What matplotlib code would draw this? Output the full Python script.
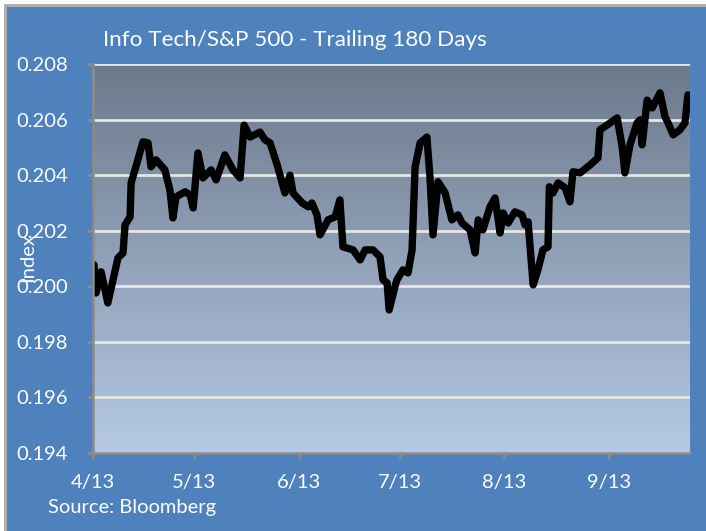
import numpy as np
import matplotlib.pyplot as plt
import matplotlib.dates as mdates
from matplotlib.patches import Rectangle
from datetime import datetime

# Info Tech / S&P 500 relative ratio, days counted from 1 Apr 2013
day_offset = [
    0.3, 0.9, 2.4, 4.4, 7.4, 8.9, 9.5, 11.0, 11.3, 13.3, 14.8, 16.3, 17.2,
    18.7, 21.3, 22.8, 23.7, 24.6, 27.3, 28.8, 29.7, 31.1, 32.6, 35.0, 36.5,
    39.1, 41.5, 43.6, 44.8, 46.6, 49.5, 51.0, 52.5, 54.6, 56.9, 58.4, 59.3,
    62.0, 63.8, 64.9, 66.4, 67.3, 69.7, 71.8, 73.2, 74.1, 77.1, 79.2, 80.7,
    83.0, 85.1, 86.0, 87.2, 87.8, 89.5, 90.1, 91.9, 93.4, 94.6, 95.5, 97.0,
    99.0, 99.9, 100.8, 102.3, 104.4, 106.4, 108.2, 109.4, 111.8, 113.3,
    114.2, 115.6, 117.7, 119.2, 120.7, 121.6, 123.1, 125.1, 127.2, 128.1,
    129.0, 130.5, 131.9, 133.4, 134.9, 135.3, 136.4, 137.9, 140.0, 141.4,
    142.3, 144.4, 147.4, 149.7, 150.3, 152.4, 155.4, 156.9, 157.7, 159.2,
    161.3, 162.2, 162.8, 164.3, 165.8, 168.1, 169.6, 170.5, 172.0, 174.0,
    175.5, 176.4,
]
ratio = [
    0.20077, 0.19976, 0.20052, 0.19940, 0.20102, 0.20120, 0.20221, 0.20250,
    0.20372, 0.20455, 0.20520, 0.20516, 0.20430, 0.20455, 0.20419, 0.20347,
    0.20246, 0.20322, 0.20340, 0.20329, 0.20282, 0.20480, 0.20390, 0.20419,
    0.20383, 0.20473, 0.20419, 0.20390, 0.20580, 0.20537, 0.20555, 0.20527,
    0.20516, 0.20437, 0.20336, 0.20400, 0.20336, 0.20300, 0.20286, 0.20300,
    0.20257, 0.20185, 0.20239, 0.20250, 0.20311, 0.20142, 0.20131, 0.20095,
    0.20131, 0.20131, 0.20106, 0.20023, 0.20012, 0.19915, 0.19998, 0.20023,
    0.20059, 0.20048, 0.20131, 0.20430, 0.20516, 0.20537, 0.20394, 0.20185,
    0.20376, 0.20336, 0.20239, 0.20257, 0.20228, 0.20203, 0.20120, 0.20239,
    0.20203, 0.20286, 0.20318, 0.20192, 0.20264, 0.20228, 0.20268, 0.20257,
    0.20221, 0.20232, 0.20005, 0.20059, 0.20131, 0.20142, 0.20358, 0.20336,
    0.20372, 0.20354, 0.20304, 0.20412, 0.20408, 0.20437, 0.20462, 0.20563,
    0.20580, 0.20606, 0.20501, 0.20408, 0.20509, 0.20588, 0.20599, 0.20509,
    0.20670, 0.20642, 0.20696, 0.20610, 0.20588, 0.20545, 0.20563, 0.20588,
    0.20689,
]

month_starts = [datetime(2013, m, 1) for m in range(4, 10)]
month_labels = ['4/13', '5/13', '6/13', '7/13', '8/13', '9/13']
y_ticks = [0.194, 0.196, 0.198, 0.200, 0.202, 0.204, 0.206, 0.208]

BLUE = '#4F81BD'
SPINE = '#8C8C8C'
FONT = 'Lato'

start = mdates.date2num(datetime(2013, 4, 1))
x = start + np.array(day_offset)

fig = plt.figure(figsize=(7.06, 5.31), dpi=100)
fig.patch.set_facecolor('white')

# gray frame + blue chart background
fig.add_artist(Rectangle((4 / 706, 0), 1, 1 - 4 / 531, transform=fig.transFigure,
                         facecolor='#B0B0B0', edgecolor='none', zorder=-3))
fig.add_artist(Rectangle((7 / 706, 0), 1, 1 - 7 / 531, transform=fig.transFigure,
                         facecolor=BLUE, edgecolor='none', zorder=-2))

ax = fig.add_axes([93 / 706, 78 / 531, 597 / 706, 389 / 531])
ax.set_facecolor('none')

# vertical gradient of the plot area
top_c = np.array([108, 121, 139]) / 255
bot_c = np.array([181, 201, 229]) / 255
t = np.linspace(0, 1, 256)[:, None]
grad = (top_c * (1 - t) + bot_c * t)[:, None, :]
ax.imshow(grad, extent=[0, 1, 0, 1], transform=ax.transAxes,
          aspect='auto', zorder=0, interpolation='bilinear')

ax.set_xlim(start, start + 177.0)
ax.set_ylim(0.194, 0.208)

for v in y_ticks[1:]:
    ax.axhline(v, color='#E6E6E6', lw=2.0, zorder=1)

ax.plot(x, ratio, color='black', lw=5.3, solid_joinstyle='round',
        solid_capstyle='round', zorder=3)

ax.set_xticks(mdates.date2num(month_starts))
ax.set_xticklabels(month_labels)
ax.set_yticks(y_ticks)
ax.set_yticklabels([f'{v:.3f}' for v in y_ticks])

for side in ('top', 'right'):
    ax.spines[side].set_visible(False)
for side in ('left', 'bottom'):
    ax.spines[side].set_color(SPINE)
    ax.spines[side].set_linewidth(1.8)
    ax.spines[side].set_zorder(4)

ax.tick_params(axis='both', colors=SPINE, length=4, width=1.8, direction='out')
ax.tick_params(axis='x', pad=11, labelcolor='white', labelsize=14.5)
ax.tick_params(axis='y', pad=14, labelcolor='white', labelsize=14.5)
for lbl in ax.get_xticklabels() + ax.get_yticklabels():
    lbl.set_fontfamily(FONT)

fig.text(103 / 706, 1 - 40 / 531, 'Info Tech/S&P 500 - Trailing 180 Days',
         color='white', fontsize=16.2, fontfamily=FONT, ha='left', va='center')
fig.text(28 / 706, 1 - 258 / 531, 'Index', rotation=90, color='white',
         fontsize=14.5, fontfamily=FONT, ha='center', va='center')
fig.text(48 / 706, 1 - 508 / 531, 'Source: Bloomberg', color='white',
         fontsize=14.5, fontfamily=FONT, ha='left', va='center')

fig.savefig('out.png', dpi=100)
